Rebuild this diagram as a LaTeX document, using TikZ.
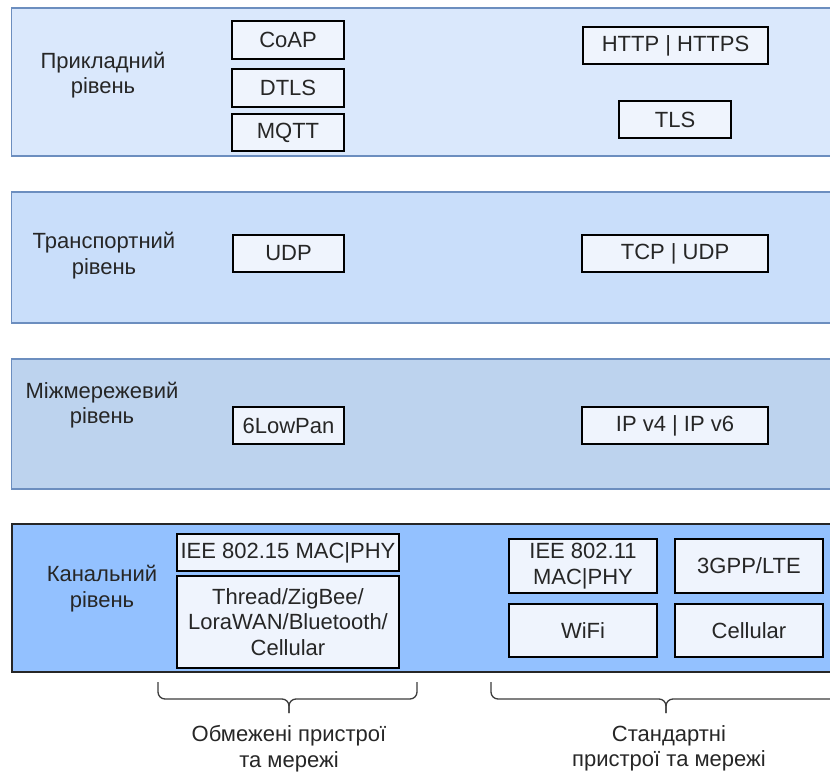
\documentclass[tikz,border=0pt]{standalone}
\usepackage{fontspec}
\setmainfont{Liberation Sans}
\definecolor{lonefill}{HTML}{DAE8FC}
\definecolor{ltwofill}{HTML}{C9DEFA}
\definecolor{lthreefill}{HTML}{BDD3EE}
\definecolor{lfourfill}{HTML}{93C1FF}
\definecolor{lstroke}{HTML}{6C8EBF}
\definecolor{boxfill}{HTML}{EFF4FD}
\definecolor{ink}{HTML}{262626}
\begin{document}
\begin{tikzpicture}[x=1pt,y=-1pt,
  txt/.style={text=ink,font=\fontsize{22}{25.5}\selectfont,align=center,inner sep=0},
  layer/.style={draw=lstroke,line width=1.5pt,inner sep=0,minimum width=823.5pt},
  item/.style={txt,draw=black,fill=boxfill,line width=1.3pt},
  brace/.style={draw=ink!90,line width=1.3pt,rounded corners=7pt}]
\useasboundingbox (0,0) rectangle (830,778);
\clip (0,0) rectangle (830,778);

% protocol layers
\node[layer,fill=lonefill,minimum height=148pt] (app) at (423.25,82) {};
\node[layer,fill=ltwofill,minimum height=131pt] (trans) at (423.25,257.5) {};
\node[layer,fill=lthreefill,minimum height=130pt] (net) at (423.25,424) {};
\node[layer,fill=lfourfill,draw=ink,line width=2pt,minimum height=148pt] (link) at (423.25,598) {};

% layer captions
\node[txt] (appl) at (103,75) {Прикладний\\рівень};
\node[txt] (transl) at (104,255.5) {Транспортний\\рівень};
\node[txt] (netl) at (102,405) {Міжмережевий\\рівень};
\node[txt] (linkl) at (102,588.5) {Канальний\\рівень};

% application layer
\node[item,minimum width=112pt,minimum height=38pt] (coap) at (288,40) {CoAP};
\node[item,minimum width=112pt,minimum height=38pt] (dtls) at (288,88) {DTLS};
\node[item,minimum width=112pt,minimum height=37pt] (mqtt) at (288,132.5) {MQTT};
\node[item,minimum width=185pt,minimum height=37pt] (http) at (675.5,45.5) {HTTP | HTTPS};
\node[item,minimum width=112pt,minimum height=37pt] (tls) at (675,119.5) {TLS};

% transport layer
\node[item,minimum width=111pt,minimum height=37pt] (udp) at (288.5,253.5) {UDP};
\node[item,minimum width=186pt,minimum height=37pt] (tcpudp) at (675,253.5) {TCP | UDP};

% internet layer
\node[item,minimum width=111pt,minimum height=37pt] (lowpan) at (288.5,425.5) {6LowPan};
\node[item,minimum width=186pt,minimum height=37pt] (ip) at (675,425.5) {IP v4 | IP v6};

% link layer
\node[item,minimum width=222pt,minimum height=37pt] (ieeefifteen) at (288,552.5) {IEE 802.15 MAC|PHY};
\node[item,minimum width=222pt,minimum height=92pt] (thread) at (288,622) {Thread/ZigBee/\\LoraWAN/Bluetooth/\\Cellular};
\node[item,minimum width=148pt,minimum height=54pt] (ieeeeleven) at (583,566) {IEE 802.11\\MAC|PHY};
\node[item,minimum width=148pt,minimum height=54pt] (lte) at (749,566) {3GPP/LTE};
\node[item,minimum width=148pt,minimum height=53pt] (wifi) at (583,630.5) {WiFi};
\node[item,minimum width=148pt,minimum height=53pt] (cell) at (749,630.5) {Cellular};

% braces under the link layer
\coordinate (ba) at (158,682);
\coordinate (bb) at (417,682);
\coordinate (bt) at (289,713);
\draw[brace] (ba) |- (bt |- 0,699) -- (bt);
\draw[brace] (bb) |- (bt |- 0,699) -- (bt);
\coordinate (ca) at (491,682);
\coordinate (cb) at (841,682);
\coordinate (ct) at (666,713);
\draw[brace] (ca) |- (ct |- 0,699) -- (ct);
\draw[brace] (cb) |- (ct |- 0,699) -- (ct);

\node[txt] (limited) at (289,748.5) {Обмежені пристрої\\та мережі};
\node[txt] (standard) at (669,748.5) {Стандартні\\пристрої та мережі};
\end{tikzpicture}
\end{document}
